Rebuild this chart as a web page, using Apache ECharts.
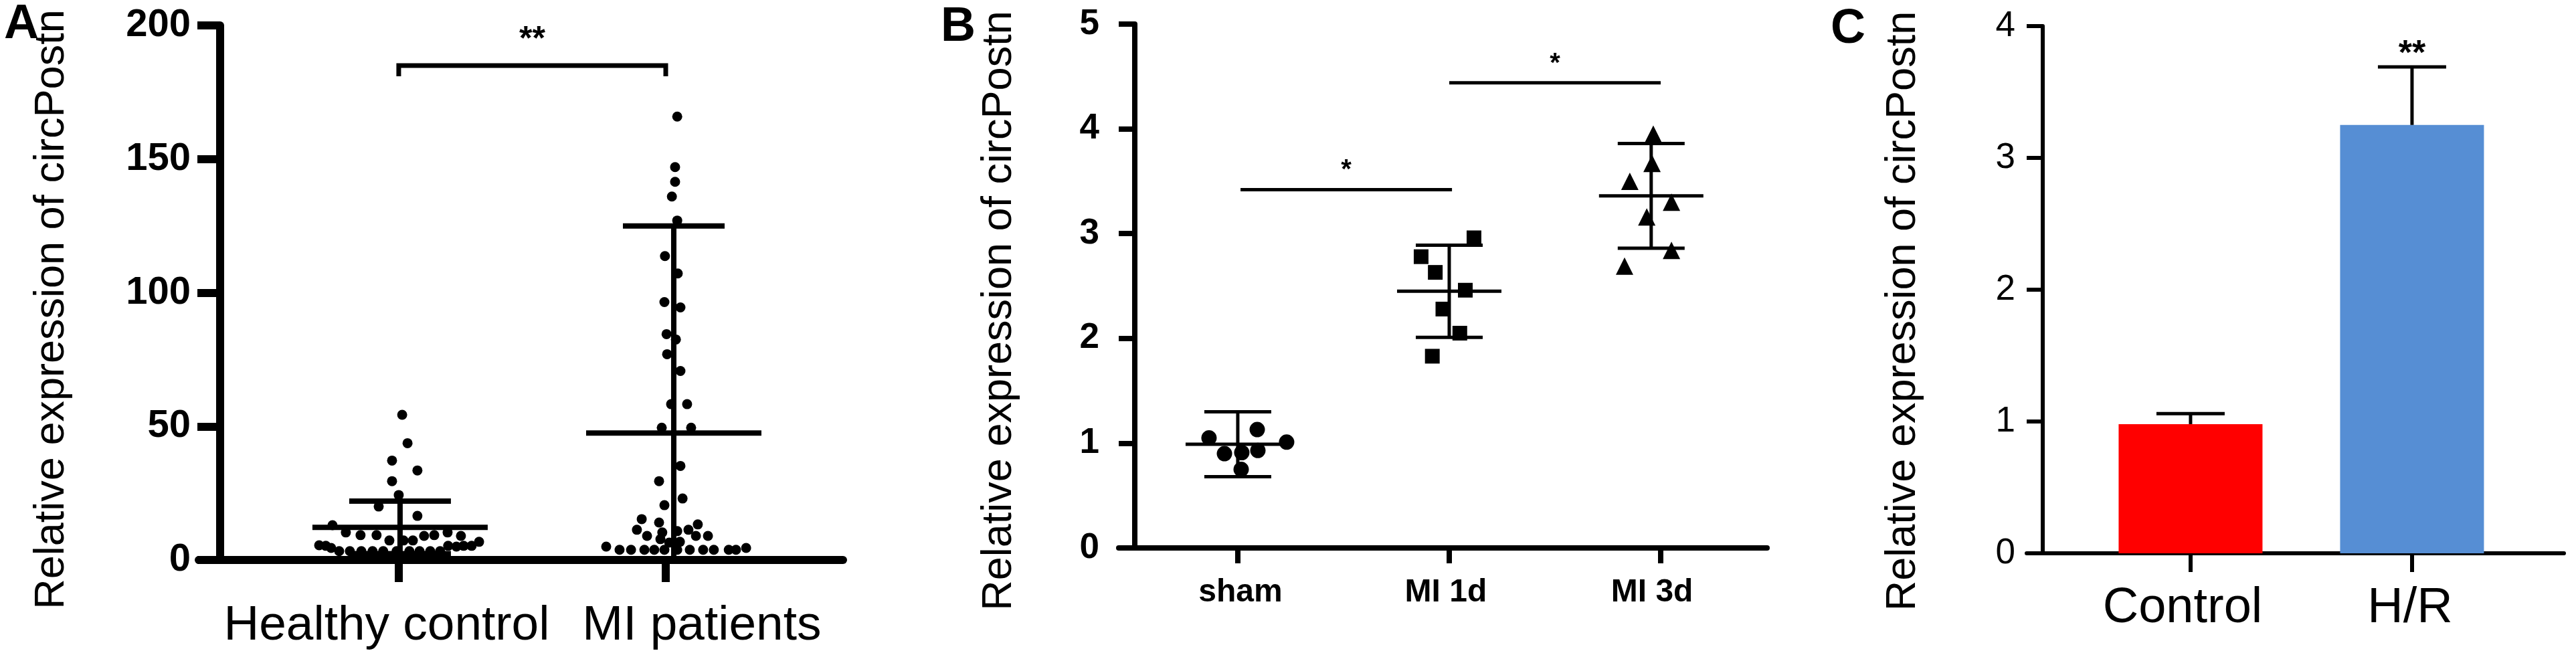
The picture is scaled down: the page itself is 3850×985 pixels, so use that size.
<!DOCTYPE html>
<html>
<head>
<meta charset="utf-8">
<title>Relative expression of circPostn</title>
<script src="https://cdn.jsdelivr.net/npm/echarts@6/dist/echarts.min.js"></script>
<style>
  html, body { margin: 0; padding: 0; background: #fff; }
  #chart { width: 3850px; height: 985px; }
</style>
</head>
<body>
<div id="chart"></div>
<script>
// ---- Panel A: patients vs healthy controls ----
const aGroups = ['Healthy control', 'MI patients'];
// [jittered x, value]
const aHealthy = [
  [0.013, 54.3], [0.033, 43.7], [-0.025, 37.2], [0.070, 33.5], [-0.025, 29.5], [0, 24.3],
  [-0.075, 20.0], [0.070, 16.5], [-0.248, 13.0], [-0.198, 10.3], [-0.143, 9.3], [-0.083, 9.3],
  [-0.035, 7.3], [0.018, 7.3], [0.053, 7.3], [0.095, 9.0], [0.133, 9.3], [0.183, 10.3],
  [0.233, 9.0], [0.301, 6.8], [0.273, 5.3], [0.243, 5.3], [0.216, 5.0], [0.185, 5.3],
  [-0.298, 5.5], [-0.273, 5.3], [-0.253, 4.5], [-0.223, 3.3], [-0.183, 3.3], [-0.140, 3.3],
  [-0.098, 3.3], [-0.058, 3.3], [-0.008, 3.3], [0.040, 3.3], [0.078, 3.3], [0.118, 3.3], [0.155, 3.3]
];
const aPatients = [
  [1.043, 165.9], [1.035, 147.0], [1.035, 141.5], [1.023, 136.0], [1.043, 127.0], [0.997, 113.7],
  [1.045, 107.2], [0.995, 96.5], [1.055, 94.5], [1.003, 84.5], [1.038, 82.5], [1.005, 77.0],
  [1.055, 70.7], [1.020, 58.3], [1.080, 58.3], [0.985, 49.5], [1.095, 49.5], [1.055, 35.2],
  [0.975, 29.5], [1.063, 23.0], [0.995, 20.5], [0.910, 15.3], [0.975, 14.0], [1.120, 13.3],
  [0.892, 11.3], [1.085, 11.3], [0.987, 10.3], [1.043, 10.8], [0.930, 9.0], [1.113, 9.0],
  [1.158, 9.0], [0.980, 7.8], [1.013, 6.5], [1.053, 6.8], [0.777, 5.0], [1.301, 4.5],
  [0.827, 3.8], [0.870, 3.8], [0.920, 3.8], [0.957, 3.8], [0.995, 3.8], [1.043, 3.8],
  [1.090, 3.8], [1.140, 3.8], [1.180, 3.8], [1.236, 3.8], [1.263, 3.8]
];
const aCenter = [0.005, 1.03];
const aMean = [12.2, 47.5];
const aSd = [9.8, 77.5];
const aTicks = [0, 50, 100, 150, 200];
const aSig = [[0, 1, 185]];
const aSigText = ['**'];

// ---- Panel B: mouse MI time course ----
const bGroups = ['sham', 'MI 1d', 'MI 3d'];
const bSham = [[-0.136, 1.05], [0.092, 1.13], [0.231, 1.01], [-0.063, 0.90], [0.019, 0.91], [0.095, 0.93], [0.016, 0.75]];
const bMI1d = [[0.867, 2.78], [0.934, 2.63], [1.117, 2.96], [1.076, 2.46], [0.970, 2.28], [1.050, 2.05], [0.920, 1.83]];
const bMI3d = [[1.965, 3.95], [1.959, 3.67], [1.854, 3.50], [2.051, 3.30], [1.934, 3.16], [2.051, 2.84], [1.829, 2.69]];
const bCenter = [0, 1, 1.955];
const bMean = [0.99, 2.45, 3.36];
const bSd = [0.31, 0.44, 0.50];
const bTicks = [0, 1, 2, 3, 4, 5];
const bSig = [[0.013, 1.013, 3.42], [1, 2, 4.44]];
const bSigText = ['*', '*'];

// ---- Panel C: cells, H/R ----
const cGroups = ['Control', 'H/R'];
const cMean = [0.98, 3.25];
const cSd = [0.08, 0.44];
const cTicks = [0, 1, 2, 3, 4];
const cSigText = ['', '**'];

const FONT = "'Liberation Sans', Arial, Helvetica, sans-serif";
const cColors = ['#FF0000', '#568ED4'];
const yName = 'Relative expression of circPostn';

function line(x1, y1, x2, y2, w) {
  return { type: 'line', shape: { x1, y1, x2, y2 }, style: { stroke: '#000', lineWidth: w } };
}

// mean line + SD whiskers (lower end clipped at 0)
function meanSd(meanHalf, capHalf, w) {
  return function (params, api) {
    const x = api.value(0), m = api.value(1), s = api.value(2);
    const mid = api.coord([x, m]);
    const hi = api.coord([x, m + s]);
    const lo = api.coord([x, Math.max(m - s, 0)]);
    const kids = [
      line(mid[0] - meanHalf, mid[1], mid[0] + meanHalf, mid[1], w),
      line(mid[0], hi[1], mid[0], lo[1], w),
      line(mid[0] - capHalf, hi[1], mid[0] + capHalf, hi[1], w)
    ];
    if (m - s > 0) kids.push(line(mid[0] - capHalf, lo[1], mid[0] + capHalf, lo[1], w));
    return { type: 'group', children: kids };
  };
}

// upper error bar on a bar, with optional stars
function upperBar(capHalf, w, texts, gap, font) {
  return function (params, api) {
    const x = api.value(0), m = api.value(1), s = api.value(2);
    const mid = api.coord([x, m]);
    const hi = api.coord([x, m + s]);
    return {
      type: 'group',
      children: [
        line(mid[0], hi[1], mid[0], mid[1], w),
        line(mid[0] - capHalf, hi[1], mid[0] + capHalf, hi[1], w),
        { type: 'text', style: { text: texts[params.dataIndex], x: hi[0], y: hi[1] - gap, font, fill: '#000', align: 'center', verticalAlign: 'middle' } }
      ]
    };
  };
}

function bracket(texts, drop, gap, font, w) {
  return function (params, api) {
    const a = api.coord([api.value(0), api.value(2)]);
    const b = api.coord([api.value(1), api.value(2)]);
    const pts = drop ? [[a[0], a[1] + drop], a, b, [b[0], b[1] + drop]] : [a, b];
    return {
      type: 'group',
      children: [
        { type: 'polyline', shape: { points: pts }, style: { stroke: '#000', lineWidth: w, fill: null } },
        { type: 'text', style: { text: texts[params.dataIndex], x: (a[0] + b[0]) / 2, y: a[1] - gap, font, fill: '#000', align: 'center', verticalAlign: 'middle' } }
      ]
    };
  };
}

function xAxisFor(idx, groups, min, max, labelAt, w, tickLen, labelFont, margin) {
  return {
    type: 'value', gridIndex: idx, min, max,
    axisLine: { show: true, onZero: false, lineStyle: { color: '#000', width: w } },
    axisTick: { show: true, customValues: groups.map((g, i) => i), length: tickLen, lineStyle: { color: '#000', width: w } },
    axisLabel: {
      show: true, customValues: labelAt, margin,
      formatter: (v) => groups[Math.round(v)] || '',
      color: '#000', fontFamily: FONT, fontSize: labelFont.size, fontWeight: labelFont.weight
    },
    splitLine: { show: false }
  };
}

function yAxisFor(idx, ticks, offset, w, tickLen, labelFont, margin, nameGap, shift) {
  return {
    type: 'value', gridIndex: idx, min: ticks[0], max: ticks[ticks.length - 1],
    interval: ticks[1] - ticks[0], offset,
    name: yName, nameLocation: 'middle', nameGap,
    nameTextStyle: { color: '#000', fontFamily: FONT, fontSize: 63, padding: [0, shift * 2, 0, 0] },
    axisLine: { show: true, onZero: false, lineStyle: { color: '#000', width: w } },
    axisTick: { show: true, length: tickLen, lineStyle: { color: '#000', width: w } },
    axisLabel: { color: '#000', fontFamily: FONT, fontSize: labelFont.size, fontWeight: labelFont.weight, margin },
    splitLine: { show: false }
  };
}

const dot = { color: '#000', opacity: 1 };

const chart = echarts.init(document.getElementById('chart'));

const option = {
  animation: false,
  backgroundColor: '#fff',
  grid: [
    { left: 297, top: 38, width: 963, height: 799 },
    { left: 1672, top: 36, width: 969, height: 783 },
    { left: 3029, top: 39, width: 803, height: 788 }
  ],
  xAxis: [
    xAxisFor(0, aGroups, -0.749, 1.664, [-0.045, 1.135], 12, 33, { size: 73, weight: 'normal' }, 62),
    xAxisFor(1, bGroups, -0.563, 2.503, [0.013, 0.984, 1.959], 8, 23, { size: 48, weight: 'bold' }, 43),
    xAxisFor(2, cGroups, -0.740, 1.686, [-0.036, 0.991], 6, 28, { size: 74, weight: 'normal' }, 46)
  ],
  yAxis: [
    yAxisFor(0, aTicks, -32, 12, 34, { size: 58, weight: 'bold' }, 44, 220, 25),
    yAxisFor(1, bTicks, -24, 8, 24, { size: 53, weight: 'bold' }, 53, 171, 37),
    yAxisFor(2, cTicks, -24, 6, 24, { size: 53, weight: 'normal' }, 41, 177, 32)
  ],
  graphic: [
    { type: 'text', left: 6, top: 1, style: { text: 'A', font: 'bold 72px ' + FONT, fill: '#000' } },
    { type: 'text', left: 1406, top: 5, style: { text: 'B', font: 'bold 72px ' + FONT, fill: '#000' } },
    { type: 'text', left: 2736, top: 8, style: { text: 'C', font: 'bold 72px ' + FONT, fill: '#000' } }
  ],
  series: [
    // A
    { type: 'scatter', xAxisIndex: 0, yAxisIndex: 0, symbol: 'circle', symbolSize: 15, itemStyle: dot, data: aHealthy },
    { type: 'scatter', xAxisIndex: 0, yAxisIndex: 0, symbol: 'circle', symbolSize: 15, itemStyle: dot, data: aPatients },
    {
      type: 'custom', xAxisIndex: 0, yAxisIndex: 0, z: 5,
      renderItem: meanSd(131, 76, 8),
      data: aMean.map((m, i) => [aCenter[i], m, aSd[i]])
    },
    {
      type: 'custom', xAxisIndex: 0, yAxisIndex: 0, z: 5,
      renderItem: bracket(aSigText, 16, 38, 'bold 50px ' + FONT, 7),
      data: aSig
    },
    // B
    { type: 'scatter', xAxisIndex: 1, yAxisIndex: 1, symbol: 'circle', symbolSize: 23, itemStyle: dot, data: bSham },
    { type: 'scatter', xAxisIndex: 1, yAxisIndex: 1, symbol: 'rect', symbolSize: 22, itemStyle: dot, data: bMI1d },
    { type: 'scatter', xAxisIndex: 1, yAxisIndex: 1, symbol: 'triangle', symbolSize: 26, itemStyle: dot, data: bMI3d },
    {
      type: 'custom', xAxisIndex: 1, yAxisIndex: 1, z: 5,
      renderItem: meanSd(78, 50, 5),
      data: bMean.map((m, i) => [bCenter[i], m, bSd[i]])
    },
    {
      type: 'custom', xAxisIndex: 1, yAxisIndex: 1, z: 5,
      renderItem: bracket(bSigText, 0, 28, 'bold 40px ' + FONT, 5),
      data: bSig
    },
    // C
    {
      type: 'bar', xAxisIndex: 2, yAxisIndex: 2, barWidth: 215,
      data: cMean.map((m, i) => ({ value: [i, m], itemStyle: { color: cColors[i] } }))
    },
    {
      type: 'custom', xAxisIndex: 2, yAxisIndex: 2, z: 5,
      renderItem: upperBar(51, 5, cSigText, 18, 'bold 52px ' + FONT),
      data: cMean.map((m, i) => [i, m, cSd[i]])
    }
  ]
};

chart.setOption(option);
</script>
</body>
</html>
